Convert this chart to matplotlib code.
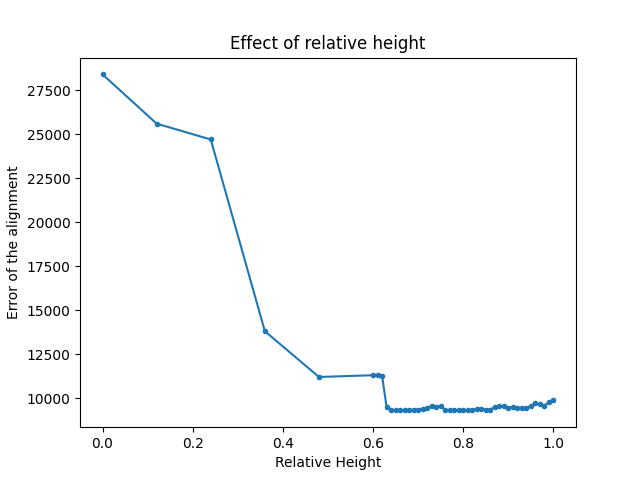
import matplotlib
matplotlib.use('Agg')
import matplotlib.pyplot as plt

# relative heights tested
heights = [0.0, 0.12, 0.24, 0.36, 0.48, 0.60, 0.61, 0.62,
           0.63, 0.64, 0.65, 0.66, 0.67, 0.68, 0.69, 0.70, 0.71, 0.72,
           0.73, 0.74, 0.75, 0.76, 0.77, 0.78, 0.79, 0.80, 0.81, 0.82,
           0.83, 0.84, 0.85, 0.86, 0.87, 0.88, 0.89, 0.90, 0.91, 0.92,
           0.93, 0.94, 0.95, 0.96, 0.97, 0.98, 0.99, 1.00]

# alignment error for each height
errors = [28400, 25600, 24700, 13800, 11200, 11300, 11300, 11250,
          9480, 9300, 9300, 9300, 9300, 9340, 9340, 9350, 9400, 9450,
          9560, 9500, 9560, 9300, 9300, 9300, 9300, 9340, 9300, 9300,
          9400, 9400, 9350, 9350, 9500, 9550, 9550, 9450, 9500, 9450,
          9450, 9450, 9550, 9720, 9650, 9550, 9800, 9900]

fig, ax = plt.subplots(figsize=(6.4, 4.8), dpi=100)
ax.plot(heights, errors, marker='.')

ax.set_title('Effect of relative height')
ax.set_xlabel('Relative Height')
ax.set_ylabel('Error of the alignment')

fig.savefig('out.png')
